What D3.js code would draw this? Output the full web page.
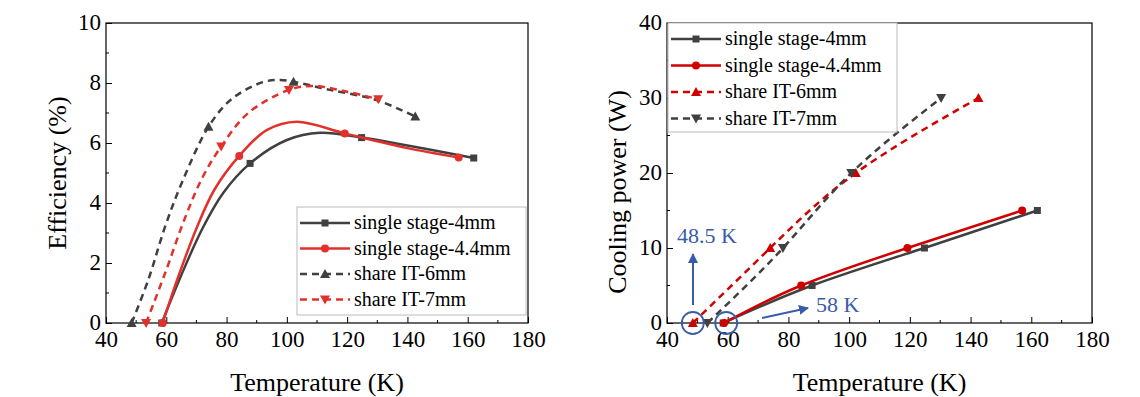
<!DOCTYPE html>
<html>
<head>
<meta charset="utf-8">
<script src="https://cdn.jsdelivr.net/npm/d3@7"></script>
<style>
    body { margin: 0; background: #fff; }
    svg { display: block; }
    svg text { font-family: "Liberation Serif", "Times New Roman", "DejaVu Serif", serif; }
</style>
</head>
<body>
<script>
// temperatures (K) at the marked points
var tempSingle4 = [58.5, 87.8, 124.8, 162]
var tempSingle44 = [58.8, 84.2, 119.2, 157]
var tempShare6 = [48.5, 74, 102.2, 142.6]
var tempShare7 = [53.3, 78.2, 100.7, 130.3]

// efficiency (%) at the marked points
var effSingle4 = [0, 5.32, 6.18, 5.5]
var effSingle44 = [0, 5.57, 6.32, 5.52]
var effShare6 = [0, 6.54, 8.04, 6.88]
var effShare7 = [0, 5.88, 7.77, 7.46]

// efficiency curves
var curveTempSingle4 = [58.5, 65, 72, 79, 87.8, 100, 111, 124.8, 140, 162]
var curveEffSingle4 = [0, 1.6, 3.15, 4.35, 5.32, 6.1, 6.34, 6.18, 5.92, 5.5]
var curveTempSingle44 = [58.8, 64, 70, 76, 84.2, 93.3, 103.3, 119.2, 140, 157]
var curveEffSingle44 = [0, 1.55, 3.15, 4.45, 5.57, 6.43, 6.71, 6.32, 5.83, 5.52]
var curveTempShare6 = [48.5, 54, 59.6, 65.1, 74, 81.5, 91.7, 97.7, 102.2, 114.3, 129.8, 142.6]
var curveEffShare6 = [0, 1.43, 3.21, 4.66, 6.54, 7.45, 8.02, 8.1, 8.04, 7.77, 7.43, 6.88]
var curveTempShare7 = [53.3, 59.6, 66.2, 72, 78.2, 87.2, 100.7, 108.8, 119.9, 130.3]
var curveEffShare7 = [0, 1.66, 3.5, 4.85, 5.88, 7.0, 7.77, 7.9, 7.71, 7.46]

// cooling power (W)
var powSingle = [0, 5, 10, 15]
var powShare = [0, 10, 20, 30]

var xTicks = [40, 60, 80, 100, 120, 140, 160, 180]
var effTicks = [0, 2, 4, 6, 8, 10]
var powTicks = [0, 10, 20, 30, 40]

var seriesNames = ['single stage-4mm', 'single stage-4.4mm', 'share IT-6mm', 'share IT-7mm']

var gray = '#404040', redL = '#e3302b', redR = '#d10000', blue = '#3a5ca8'
var serif = '"Liberation Serif", "Times New Roman", "DejaVu Serif", serif'

var W = 1140, H = 397
var svg = d3.select('body').append('svg').attr('width', W).attr('height', H)

var zip = function (xs, ys) {
    return xs.map(function (d, i) { return [d, ys[i]] })
}

var drawMarker = function (g, type, x, y, color) {
    if (type == 'square') {
        g.append('rect').attr('x', x - 3.5).attr('y', y - 3.5).attr('width', 7).attr('height', 7).attr('fill', color)
    } else if (type == 'circle') {
        g.append('circle').attr('cx', x).attr('cy', y).attr('r', 4).attr('fill', color)
    } else if (type == 'up') {
        g.append('path').attr('d', 'M' + x + ',' + (y - 5) + 'L' + (x + 5) + ',' + (y + 4) + 'L' + (x - 5) + ',' + (y + 4) + 'Z').attr('fill', color)
    } else {
        g.append('path').attr('d', 'M' + x + ',' + (y + 5) + 'L' + (x + 5) + ',' + (y - 4) + 'L' + (x - 5) + ',' + (y - 4) + 'Z').attr('fill', color)
    }
}

var panel = function (opt) {
    var g = svg.append('g')
    var x = d3.scaleLinear().domain([40, 180]).range([opt.left, opt.right])
    var y = d3.scaleLinear().domain(opt.yDomain).range([opt.bottom, opt.top])

    // minor ticks
    var xMinor = d3.range(50, 180, 20)
    var yMinor = d3.range(opt.yMinorStep, opt.yDomain[1], opt.yMinorStep * 2)

    var xa = g.append('g').attr('transform', 'translate(0,' + opt.bottom + ')')
        .call(d3.axisBottom(x).tickValues(xTicks).tickSizeInner(-6).tickSizeOuter(0).tickPadding(7))
    var ya = g.append('g').attr('transform', 'translate(' + opt.left + ',0)')
        .call(d3.axisLeft(y).tickValues(opt.yTicks).tickSizeInner(-6).tickSizeOuter(0).tickPadding(5))
    xMinor.forEach(function (v) {
        g.append('line').attr('x1', x(v)).attr('x2', x(v)).attr('y1', opt.bottom).attr('y2', opt.bottom - 3).attr('stroke', '#000')
    })
    yMinor.forEach(function (v) {
        g.append('line').attr('x1', opt.left).attr('x2', opt.left + 3).attr('y1', y(v)).attr('y2', y(v)).attr('stroke', '#000')
    })
    g.selectAll('.domain').remove()
    g.selectAll('.tick line').attr('stroke', '#000')
    xa.attr('font-family', serif)
    ya.attr('font-family', serif)
    g.selectAll('.tick text').attr('font-size', 23).attr('fill', '#000')
    xa.selectAll('.tick text').attr('dy', '0.72em')
    ya.selectAll('.tick text').attr('dy', '0.3em')

    g.append('rect').attr('x', opt.left).attr('y', opt.top)
        .attr('width', opt.right - opt.left).attr('height', opt.bottom - opt.top)
        .attr('fill', 'none').attr('stroke', '#000').attr('stroke-width', 1.2)

    // curves
    var line = d3.line().x(function (d) { return x(d[0]) }).y(function (d) { return y(d[1]) }).curve(opt.curve)
    opt.series.forEach(function (s) {
        var pts = zip(s.t, s.v)
        var cpts = s.ct ? zip(s.ct, s.cv) : pts
        g.append('path').attr('d', line(cpts)).attr('fill', 'none')
            .attr('stroke', s.color).attr('stroke-width', 2.5)
            .attr('stroke-dasharray', s.dash ? '7,5' : null)
        pts.forEach(function (p) { drawMarker(g, s.marker, x(p[0]), y(p[1]), s.color) })
    })

    // legend
    var lg = opt.legend
    g.append('rect').attr('x', lg.x).attr('y', lg.y).attr('width', lg.w).attr('height', lg.h)
        .attr('fill', '#fff').attr('stroke', '#bbb').attr('stroke-width', 1)
    opt.series.forEach(function (s, i) {
        var yy = lg.y + 16 + i * lg.step
        g.append('line').attr('x1', lg.x + 3).attr('x2', lg.x + 53).attr('y1', yy).attr('y2', yy)
            .attr('stroke', s.color).attr('stroke-width', 2.5)
            .attr('stroke-dasharray', s.dash ? '7,5' : null)
        drawMarker(g, s.marker, lg.x + 28, yy, s.color)
        g.append('text').attr('x', lg.x + 57).attr('y', yy).attr('dy', '0.32em')
            .attr('font-size', 20).text(s.name)
    })

    // axis titles
    g.append('text').attr('x', (opt.left + opt.right) / 2).attr('y', 391)
        .attr('text-anchor', 'middle').attr('font-size', 26).text('Temperature (K)')
    g.append('text').attr('transform', 'translate(' + opt.yLabelX + ',' + opt.yLabelY + ') rotate(-90)')
        .attr('text-anchor', 'middle').attr('font-size', 26).text(opt.yLabel)

    return { g: g, x: x, y: y }
}

panel({
    left: 106, right: 528, top: 23, bottom: 323,
    yDomain: [0, 10], yTicks: effTicks, yMinorStep: 1, curve: d3.curveCatmullRom.alpha(0.5),
    yLabel: 'Efficiency (%)', yLabelX: 66, yLabelY: 173,
    legend: { x: 297, y: 207, w: 229, h: 108, step: 25.5 },
    series: [
        { name: seriesNames[0], t: tempSingle4, v: effSingle4, ct: curveTempSingle4, cv: curveEffSingle4, color: gray, marker: 'square' },
        { name: seriesNames[1], t: tempSingle44, v: effSingle44, ct: curveTempSingle44, cv: curveEffSingle44, color: redL, marker: 'circle' },
        { name: seriesNames[2], t: tempShare6, v: effShare6, ct: curveTempShare6, cv: curveEffShare6, color: gray, marker: 'up', dash: true },
        { name: seriesNames[3], t: tempShare7, v: effShare7, ct: curveTempShare7, cv: curveEffShare7, color: redL, marker: 'down', dash: true }
    ]
})

var right = panel({
    left: 667, right: 1092, top: 23, bottom: 323,
    yDomain: [0, 40], yTicks: powTicks, yMinorStep: 5, curve: d3.curveNatural,
    yLabel: 'Cooling power (W)', yLabelX: 626, yLabelY: 192,
    legend: { x: 668, y: 23, w: 229, h: 109, step: 26.5 },
    series: [
        { name: seriesNames[0], t: tempSingle4, v: powSingle, color: gray, marker: 'square' },
        { name: seriesNames[1], t: tempSingle44, v: powSingle, color: redR, marker: 'circle' },
        { name: seriesNames[2], t: tempShare6, v: powShare, color: redR, marker: 'up', dash: true },
        { name: seriesNames[3], t: tempShare7, v: powShare, color: gray, marker: 'down', dash: true }
    ]
})

// annotations on the right panel
var ann = right.g.append('g')
var rx = right.x, ry = right.y
svg.append('defs').append('marker').attr('id', 'arr').attr('viewBox', '0 0 10 10')
    .attr('refX', 9).attr('refY', 5).attr('markerWidth', 5).attr('markerHeight', 5).attr('orient', 'auto')
    .append('path').attr('d', 'M0,0L10,5L0,10Z').attr('fill', blue)
ann.append('circle').attr('cx', rx(tempShare6[0])).attr('cy', ry(0)).attr('r', 11)
    .attr('fill', 'none').attr('stroke', blue).attr('stroke-width', 1.8)
ann.append('circle').attr('cx', rx(tempSingle4[0] + 1)).attr('cy', ry(0)).attr('r', 11)
    .attr('fill', 'none').attr('stroke', blue).attr('stroke-width', 1.8)
ann.append('line').attr('x1', 693).attr('y1', 305).attr('x2', 693).attr('y2', 254)
    .attr('stroke', blue).attr('stroke-width', 2).attr('marker-end', 'url(#arr)')
ann.append('line').attr('x1', 762).attr('y1', 318).attr('x2', 808).attr('y2', 308)
    .attr('stroke', blue).attr('stroke-width', 2).attr('marker-end', 'url(#arr)')
ann.append('text').attr('x', 677).attr('y', 243).attr('font-size', 22).attr('fill', blue).text('48.5 K')
ann.append('text').attr('x', 816).attr('y', 312).attr('font-size', 22).attr('fill', blue).text('58 K')
</script>
</body>
</html>
